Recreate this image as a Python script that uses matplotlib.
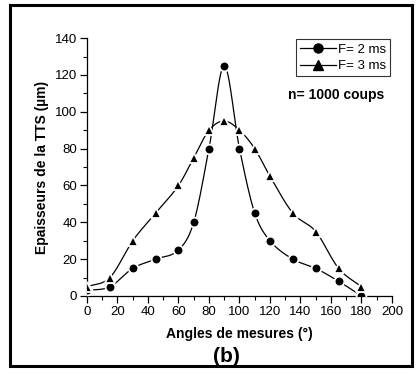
import numpy as np
import matplotlib
matplotlib.use("Agg")
import matplotlib.pyplot as plt
from matplotlib.patches import Rectangle

plt.rcParams["font.family"] = ["Liberation Sans", "DejaVu Sans"]

angles = [0, 15, 30, 45, 60, 70, 80, 90, 100, 110, 120, 135, 150, 165, 180]
f2ms = [3, 5, 15, 20, 25, 40, 80, 125, 80, 45, 30, 20, 15, 8, 0]
f3ms = [5, 10, 30, 45, 60, 75, 90, 95, 90, 80, 65, 45, 35, 15, 5]
labels = ["F= 2 ms", "F= 3 ms"]


def smooth(x, y, n=30):
    # cubic hermite curve, slopes from neighbours (just for drawing the line)
    x = np.asarray(x, float)
    y = np.asarray(y, float)
    m = np.zeros_like(y)
    m[1:-1] = (y[2:] - y[:-2]) / (x[2:] - x[:-2])
    m[0] = (y[1] - y[0]) / (x[1] - x[0])
    m[-1] = (y[-1] - y[-2]) / (x[-1] - x[-2])
    xs, ys = [], []
    for i in range(len(x) - 1):
        h = x[i + 1] - x[i]
        t = np.linspace(0, 1, n, endpoint=False)
        h00 = 2 * t**3 - 3 * t**2 + 1
        h10 = t**3 - 2 * t**2 + t
        h01 = -2 * t**3 + 3 * t**2
        h11 = t**3 - t**2
        xs.append(x[i] + t * h)
        ys.append(h00 * y[i] + h10 * h * m[i] + h01 * y[i + 1] + h11 * h * m[i + 1])
    xs.append([x[-1]])
    ys.append([y[-1]])
    return np.concatenate(xs), np.concatenate(ys)


fig = plt.figure(figsize=(4.17, 3.74), dpi=100)
ax = fig.add_axes([0.2086, 0.2086, 0.7314, 0.6894])

for yv, mk, lab, ms in [(f2ms, "o", labels[0], 7), (f3ms, "^", labels[1], 7.5)]:
    sx, sy = smooth(angles, yv)
    ax.plot(sx, sy, color="black", lw=0.9, zorder=2)
    ax.plot(angles, yv, ls="none", marker=mk, ms=ms, mfc="black",
            mec="white", mew=1.3, zorder=3)
    ax.plot([], [], color="black", lw=0.9, marker=mk, ms=6.5, mfc="black",
            mec="black", label=lab)

ax.set_xlim(0, 200)
ax.set_ylim(0, 140)
ax.set_xticks(np.arange(0, 201, 20))
ax.set_yticks(np.arange(0, 141, 20))
ax.set_xticks(np.arange(0, 201, 10), minor=True)
ax.set_yticks(np.arange(0, 141, 10), minor=True)
ax.tick_params(which="major", direction="out", length=5, width=0.9, labelsize=9.5, pad=2)
ax.tick_params(which="minor", direction="out", length=3, width=0.8)
ax.spines["top"].set_visible(False)
ax.spines["right"].set_visible(False)
for s in ["left", "bottom"]:
    ax.spines[s].set_linewidth(0.9)

ax.set_xlabel("Angles de mesures (°)", fontsize=10, fontweight="bold", labelpad=7)
ax.set_ylabel("Epaisseurs de la TTS (µm)", fontsize=10, fontweight="bold", labelpad=4)

leg = ax.legend(loc="upper right", bbox_to_anchor=(0.995, 0.995), fontsize=9.5,
                frameon=True, fancybox=False, edgecolor="black", handlelength=2.7,
                handletextpad=0.2, borderpad=0.3, labelspacing=0.35, borderaxespad=0.0)
leg.get_frame().set_linewidth(0.8)

ax.text(0.975, 0.78, "n= 1000 coups", transform=ax.transAxes, ha="right",
        va="center", fontsize=10, fontweight="bold")

fig.text(0.542, 1 - 356 / 374, "(b)", ha="center", va="center", fontsize=15,
         fontweight="bold")

fig.patches.append(Rectangle((10 / 417, 1 - 366 / 374), 402 / 417, 361 / 374,
                             transform=fig.transFigure, fill=False,
                             edgecolor="black", lw=2.2))

fig.savefig("out.png", dpi=100)
